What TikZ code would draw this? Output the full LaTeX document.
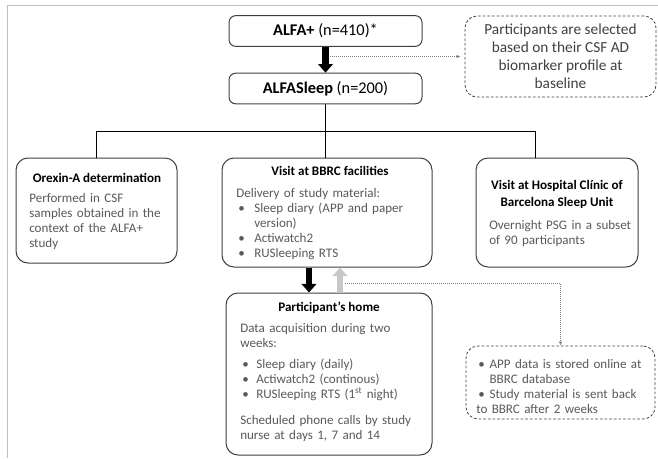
\documentclass[tikz,border=0pt]{standalone}
\usepackage{fontspec}
\setmainfont{Carlito}
\usetikzlibrary{arrows.meta}

\definecolor{framegray}{HTML}{BFBFBF}
\definecolor{textgray}{HTML}{595959}
\definecolor{edgegray}{HTML}{404040}
\definecolor{backgray}{HTML}{C8C8C8}
\definecolor{dotgray}{HTML}{7F7F7F}

\newcommand{\bitem}[2]{\par\noindent\hangindent=#1\makebox[#1][l]{\hspace{1.5pt}\textbullet}#2}

\tikzset{
  card/.style={draw=edgegray, line width=0.75pt, rounded corners=9pt, inner sep=0pt},
  topcard/.style={card, rounded corners=5pt, minimum width=144.75pt, minimum height=23pt, font=\fontsize{12.25}{14}\selectfont},
  notecard/.style={draw=edgegray, line width=0.6pt, dash pattern=on 2pt off 1.5pt, rounded corners=9pt, inner sep=0pt},
  headtext/.style={inner sep=0pt, align=center, font=\fontsize{9.8}{12.5}\selectfont\bfseries},
  bodytext/.style={inner sep=0pt, anchor=north west, align=left, text width=#1, text=textgray, font=\fontsize{9.8}{11.25}\selectfont},
  bigarrow/.style={line width=5pt, -{Triangle[width=11pt,length=6.5pt]}},
  hint/.style={dotgray, line width=0.5pt, dash pattern=on 0.6pt off 0.9pt, -{Latex[length=3pt,width=2.5pt]}},
}

\begin{document}
\begin{tikzpicture}[x=0.75pt, y=-0.75pt]
  \useasboundingbox (0,0) rectangle (658,458);
  \draw[framegray, line width=0.75pt] (7,458) -- (7,5) -- (658,5);

  % cohort selection
  \node[topcard] (alfa) at (325.5,31) {\textbf{ALFA+} (n=410)*};
  \node[topcard] (sleep) at (325.5,88.5) {\textbf{ALFASleep} (n=200)};
  \node[notecard, minimum width=143.25pt, minimum height=60.75pt, align=center, text=edgegray, font=\fontsize{11.5}{13.5}\selectfont] (sel) at (560.5,56.5) {Participants are selected\\based on their CSF AD\\biomarker profile at\\baseline};

  \coordinate (selfrom) at (330,56.5);
  \draw[bigarrow] (alfa.south) -- (sleep.north);
  \draw[hint] (selfrom) -- ([xshift=-3pt]sel.west);

  % three branches
  \node[card, minimum width=120.75pt, minimum height=78.75pt] (orx) at (96.5,210.5) {};
  \node[card, minimum width=157.5pt, minimum height=81.75pt] (bbrc) at (327,212.5) {};
  \node[card, minimum width=121.5pt, minimum height=81.75pt] (hosp) at (557,212.5) {};

  \coordinate (busl) at (96.5,131);
  \coordinate (busr) at (535,131);
  \draw[line width=0.75pt] (sleep.south) -- (sleep.south |- bbrc.north);
  \draw[line width=0.75pt] (orx.north) -- (busl) -- (busr) -- (busr |- hosp.north);

  \node[headtext] (orxhead) at (97,178) {Orexin-A determination};
  \node[bodytext=115pt] (orxbody) at (29,193) {Performed in CSF\newline samples obtained in the\newline context of the ALFA+\newline study};

  \node[headtext] (bbrchead) at (330,171) {Visit at BBRC facilities};
  \node[bodytext=148pt] (bbrcbody) at (236,188) {Delivery of study material:
    \bitem{13.5pt}{Sleep diary (APP and paper\newline version)}
    \bitem{13.5pt}{Actiwatch2}
    \bitem{13.5pt}{RUSleeping RTS}};

  \node[headtext] (hosphead) at (557,194.5) {Visit at Hospital Clínic of\\Barcelona Sleep Unit};
  \node[bodytext=112pt] (hospbody) at (489,220) {Overnight PSG in a subset\newline of 90 participants};

  % two weeks at home
  \node[card, minimum width=154.5pt, minimum height=121.5pt] (home) at (329,374) {};
  \coordinate (downx) at (309,0);
  \coordinate (upx) at (340,0);
  \draw[bigarrow] (downx |- bbrc.south) -- (downx |- home.north);
  \draw[bigarrow, backgray] (upx |- home.north) -- (upx |- bbrc.south);

  \node[headtext] (homehead) at (329,308) {Participant’s home};
  \node[bodytext=150pt] (homebody) at (240,323) {Data acquisition during two\newline weeks:\par\vspace{4.5pt}
    \bitem{12pt}{Sleep diary (daily)}
    \bitem{12pt}{Actiwatch2 (continous)}
    \bitem{12pt}{RUSleeping RTS (1\textsuperscript{st} night)}\par\vspace{8pt}
    \noindent Scheduled phone calls by study\newline nurse at days 1, 7 and 14};

  \node[notecard, minimum width=141.75pt, minimum height=54.75pt] (app) at (560.5,382.5) {};
  \node[bodytext=138pt] (appbody) at (476,353) {\bitem{10pt}{APP data is stored online at\newline BBRC database}\bitem{10pt}{Study material is sent back\newline to BBRC after 2 weeks}};

  \coordinate (retfrom) at (345,283);
  \draw[hint] (retfrom) -| (app.north);
\end{tikzpicture}
\end{document}
